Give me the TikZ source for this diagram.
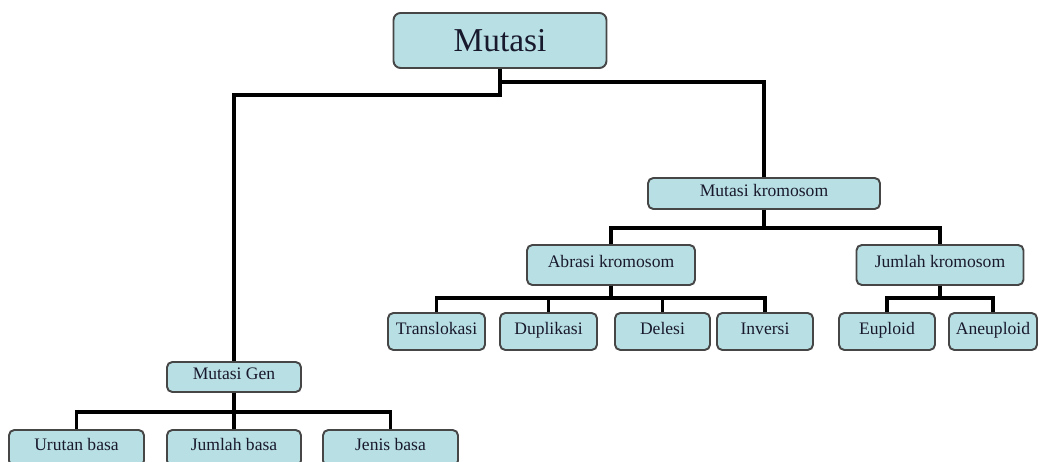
\documentclass[tikz,border=0pt]{standalone}
\usepackage{fontspec}
\setmainfont{Liberation Serif}
\usetikzlibrary{positioning,calc}
\definecolor{boxfill}{RGB}{184,224,228}
\definecolor{boxline}{RGB}{70,70,70}
\definecolor{textink}{RGB}{25,25,45}

\tikzset{
    box/.style={draw=boxline, line width=1.1pt, fill=boxfill, rounded corners=3pt,
        inner sep=0pt, text=textink, font=\fontsize{10}{12}\selectfont,
        text height=7pt, text depth=4pt},
    root/.style={draw=boxline, line width=1.1pt, fill=boxfill, rounded corners=4pt,
        inner sep=0pt, text=textink, font=\fontsize{19}{22}\selectfont},
    link/.style={line width=2pt, black}
}

\begin{document}
\begin{tikzpicture}[x=0.02cm, y=-0.02cm]
    \useasboundingbox (0,0) rectangle (1045,462);

    % Root
    \node[root, minimum width=4.26cm, minimum height=1.1cm] (mutasi) at (500,40.5) {Mutasi};

    % Second level
    \node[box, minimum width=2.68cm, minimum height=0.6cm] (gen) at (234,377) {Mutasi Gen};
    \node[box, minimum width=4.64cm, minimum height=0.62cm] (kromosom) at (764,193.5) {Mutasi kromosom};

    % Chromosome branches
    \node[box, minimum width=3.36cm, minimum height=0.8cm] (abrasi) at (611,265) {Abrasi kromosom};
    \node[box, minimum width=3.34cm, minimum height=0.8cm] (jumlahk) at (940,265) {Jumlah kromosom};

    \node[box, minimum width=1.94cm, minimum height=0.74cm] (transl) at (436.5,331.5) {Translokasi};
    \node[box, minimum width=1.94cm, minimum height=0.74cm] (dupl) at (548.5,331.5) {Duplikasi};
    \node[box, minimum width=1.90cm, minimum height=0.74cm] (delesi) at (662.5,331.5) {Delesi};
    \node[box, minimum width=1.92cm, minimum height=0.74cm] (inversi) at (765,331.5) {Inversi};
    \node[box, minimum width=1.92cm, minimum height=0.74cm] (euploid) at (887,331.5) {Euploid};
    \node[box, minimum width=1.76cm, minimum height=0.74cm] (aneuploid) at (993,331.5) {Aneuploid};

    % Gene branches
    \node[box, minimum width=2.70cm, minimum height=0.72cm] (urutan) at (76.5,448) {Urutan basa};
    \node[box, minimum width=2.68cm, minimum height=0.72cm] (jumlahb) at (234,448) {Jumlah basa};
    \node[box, minimum width=2.70cm, minimum height=0.72cm] (jenis) at (390.5,448) {Jenis basa};

    % Bar heights
    \coordinate (rootleft) at (0,95);
    \coordinate (rootright) at (0,82);
    \coordinate (krombar) at (0,228);
    \coordinate (abrasibar) at (0,298);
    \coordinate (jumlahbar) at (0,298);
    \coordinate (genbar) at (0,412);

    % Connectors
    \draw[link] (mutasi.south) -- (mutasi.south |- rootleft) -| (gen.north);
    \draw[link] (mutasi.south |- rootright) -| (kromosom.north);
    \foreach \c in {abrasi,jumlahk}
        \draw[link] (kromosom.south) |- (\c.north |- krombar) -- (\c.north);
    \foreach \c in {transl,dupl,delesi,inversi}
        \draw[link] (abrasi.south) |- (\c.north |- abrasibar) -- (\c.north);
    \foreach \c in {euploid,aneuploid}
        \draw[link] (jumlahk.south) |- (\c.north |- jumlahbar) -- (\c.north);
    \foreach \c in {urutan,jumlahb,jenis}
        \draw[link] (gen.south) |- (\c.north |- genbar) -- (\c.north);
\end{tikzpicture}
\end{document}
